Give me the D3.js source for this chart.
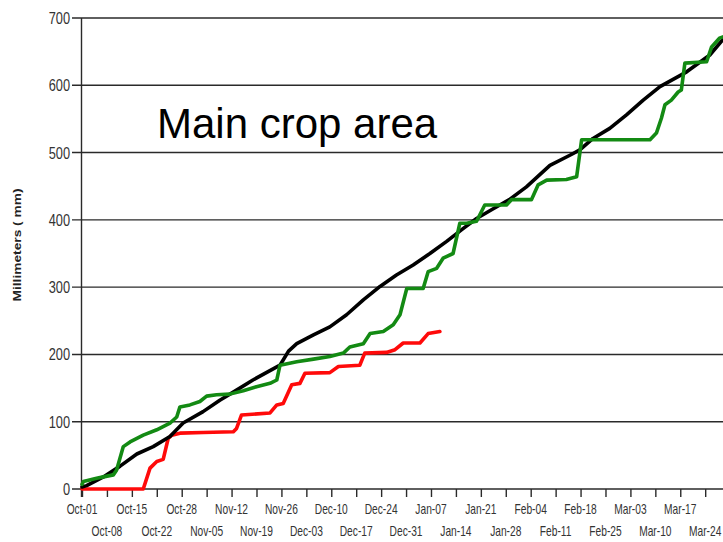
<!DOCTYPE html>
<html>
<head>
<meta charset="utf-8">
<script src="https://cdn.jsdelivr.net/npm/d3@7"></script>
<style>
  body { margin: 0; background: #fff; }
  svg { display: block; }
</style>
</head>
<body>
<div id="content"><svg width="723" height="542"></svg></div>
<script>
// tick labels along the bottom, one per week starting Oct-01
var tickLabels = ["Oct-01", "Oct-08", "Oct-15", "Oct-22", "Oct-28", "Nov-05", "Nov-12", "Nov-19",
    "Nov-26", "Dec-03", "Dec-10", "Dec-17", "Dec-24", "Dec-31", "Jan-07", "Jan-14", "Jan-21",
    "Jan-28", "Feb-04", "Feb-11", "Feb-18", "Feb-25", "Mar-03", "Mar-10", "Mar-17", "Mar-24"];
var yTicks = [0, 100, 200, 300, 400, 500, 600, 700];

// day offsets from Oct-01 and accumulated mm
var blackDays = [0, 1.3, 6, 10.7, 15.4, 20, 24.7, 28.4, 34, 38.7, 43.4, 48, 55.6, 58, 60.3, 65, 69.6,
    74.3, 79, 83.7, 88.3, 93, 97.7, 102.4, 107, 110.8, 115, 120, 124.8, 131.4, 137, 139.8, 143.5,
    148.2, 152.9, 157.6, 162.3, 169.8, 176.3, 180];
var blackMm = [3, 5, 18, 34, 52, 63, 78, 98, 115, 132, 147, 162, 184, 205, 216, 229, 241,
    259, 281, 301, 318, 333, 350, 368, 387, 402, 415, 430, 449, 481, 496, 504, 521,
    536, 556, 578, 598, 620, 645, 668];

var greenDays = [0, 0.4, 4.1, 6, 8.8, 9.7, 11.6, 13.5, 17.2, 21, 24.7, 26.6, 27.5, 30.3, 33.1, 35,
    37.8, 41.5, 45.3, 49, 52.8, 54.7, 55.6, 60.3, 65, 69.6, 73.4, 75.2, 79, 80.9, 84.6, 87.4,
    89.3, 91.2, 95.8, 97.2, 99.6, 101.4, 104.2, 106.1, 108, 110.8, 113.1, 119.2, 120.6, 126.2,
    128.1, 130.5, 136, 138.9, 140.3, 159.5, 161.3, 162.7, 163.7, 165.5, 167.4, 168.3, 169.3,
    175.4, 176.8, 179, 180];
var greenMm = [7, 11, 16, 18, 21, 28, 63, 70, 80, 88, 98, 107, 122, 125, 130, 138,
    140, 141, 146, 152, 157, 162, 184, 189, 193, 197, 202, 211, 216, 231, 234, 244,
    259, 298, 298, 323, 328, 343, 350, 395, 395, 398, 422, 422, 430, 430,
    452, 459, 460, 464, 519, 519, 529, 551, 571, 578, 590, 593, 633,
    635, 657, 670, 672];

var redDays = [0, 17.2, 19.1, 21, 22.8, 24.2, 25.2, 27.5, 34, 42.5, 43.4, 44.8, 52.8, 54.7, 56.5,
    58.9, 61.2, 62.6, 69.6, 72, 78, 79.4, 85.5, 87.9, 90.2, 94.9, 97.2, 100.5];
var redMm = [0, 0, 31, 41, 44, 75, 80, 83, 84, 85, 90, 110, 113, 125, 127,
    155, 157, 172, 173, 182, 184, 202, 203, 207, 217, 217, 231, 234];

var svg = d3.select("svg");
var width = +svg.attr("width");
var font = "Liberation Sans, Arial, sans-serif";

var xScale = d3.scaleLinear().domain([0, 180]).range([82, 723]);
var yScale = d3.scaleLinear().domain([0, 700]).range([489, 18]);

// horizontal grid
svg.append("g")
    .selectAll("line")
    .data(yTicks)
    .enter()
    .append("line")
    .attr("x1", 72)
    .attr("x2", width)
    .attr("y1", function (d) {return yScale(d);})
    .attr("y2", function (d) {return yScale(d);})
    .attr("stroke", "#2a2a2a")
    .attr("stroke-width", 1.4);

// y axis line + labels (text is drawn tall and narrow like the original)
svg.append("line")
    .attr("x1", xScale(0) - 0.5).attr("x2", xScale(0) - 0.5)
    .attr("y1", yScale(700)).attr("y2", yScale(0) + 8)
    .attr("stroke", "#2a2a2a").attr("stroke-width", 1.4);

svg.append("g")
    .selectAll("text")
    .data(yTicks)
    .enter()
    .append("text")
    .attr("transform", function (d) {return "translate(70," + (yScale(d) + 6) + ") scale(0.8,1)";})
    .attr("text-anchor", "end")
    .attr("font-family", font)
    .attr("font-size", 16)
    .attr("fill", "#333")
    .text(function (d) {return d;});

// x axis
var xAxis = d3.axisBottom(xScale)
    .tickValues(tickLabels.map(function (d, i) {return i * 7;}))
    .tickSize(8)
    .tickFormat("");
var gx = svg.append("g")
    .attr("transform", "translate(0," + yScale(0) + ")")
    .call(xAxis);
gx.select(".domain").remove();
gx.selectAll(".tick line").attr("stroke", "#2a2a2a").attr("stroke-width", 1.4);

svg.append("g")
    .selectAll("text")
    .data(tickLabels)
    .enter()
    .append("text")
    .attr("transform", function (d, i) {
        return "translate(" + xScale(i * 7) + "," + (i % 2 === 0 ? 514 : 536) + ") scale(0.73,1)";
    })
    .attr("text-anchor", "middle")
    .attr("font-family", font)
    .attr("font-size", 14)
    .attr("fill", "#333")
    .text(function (d) {return d;});

// y title
svg.append("text")
    .attr("transform", "translate(21,245) rotate(-90) scale(1.25,1)")
    .attr("text-anchor", "middle")
    .attr("font-family", font)
    .attr("font-weight", "bold")
    .attr("font-size", 11)
    .attr("fill", "#222")
    .text("Millimeters ( mm)");

// series
var line = d3.line()
    .x(function (d) {return xScale(d[0]);})
    .y(function (d) {return yScale(d[1]);});

var series = [
    {days: redDays, mm: redMm, color: "#ff0a0a"},
    {days: blackDays, mm: blackMm, color: "#000000"},
    {days: greenDays, mm: greenMm, color: "#138a13"}
];

svg.append("g")
    .selectAll("path")
    .data(series)
    .enter()
    .append("path")
    .attr("d", function (s) {return line(d3.zip(s.days, s.mm));})
    .attr("fill", "none")
    .attr("stroke", function (s) {return s.color;})
    .attr("stroke-width", 3.6)
    .attr("stroke-linejoin", "round")
    .attr("stroke-linecap", "round");

// title
svg.append("text")
    .attr("x", 157)
    .attr("y", 138)
    .attr("font-family", font)
    .attr("font-size", 42)
    .attr("fill", "#000")
    .text("Main crop area");
</script>
</body>
</html>
